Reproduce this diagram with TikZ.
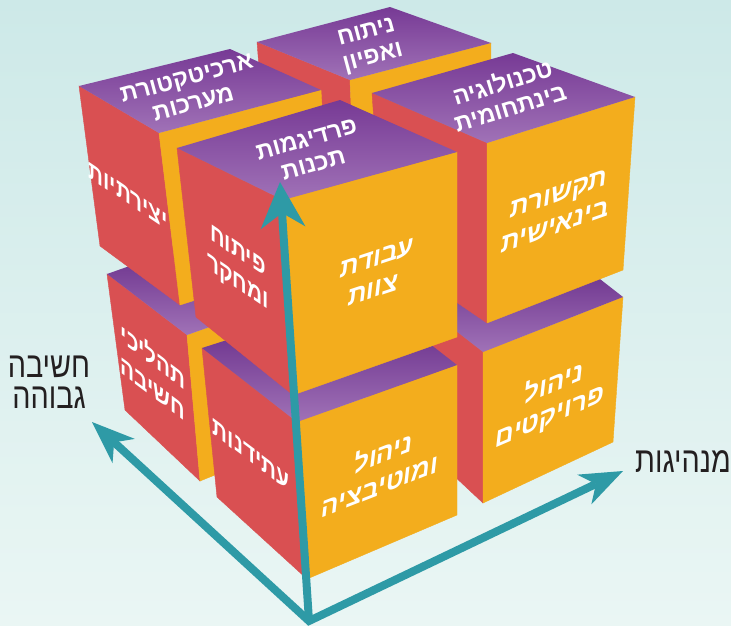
\documentclass[tikz,border=0pt]{standalone}
\usepackage{fontspec}
\usetikzlibrary{arrows.meta}
\TeXXeTstate=1
\newfontfamily\heb[Script=Hebrew]{Liberation Sans}
\definecolor{bgtop}{HTML}{CDE9E8}
\definecolor{bgbot}{HTML}{EAF6F4}
\definecolor{cpurple}{HTML}{8A50A4}
\definecolor{cpurpleL}{HTML}{A072B7}
\definecolor{cpurpleD}{HTML}{773A95}
\definecolor{cpurpleX}{HTML}{5A1C7E}
\definecolor{corange}{HTML}{F3AD1D}
\definecolor{cred}{HTML}{D95052}
\definecolor{axisc}{HTML}{2E9AA6}
\definecolor{ink}{HTML}{231F20}
\tikzset{
  topface/.style={top color=cpurpleD, bottom color=cpurpleL},
  lowtopface/.style={top color=cpurpleX, bottom color=cpurpleL},
  orface/.style={fill=corange, draw=corange, line width=0.4pt},
  rdface/.style={fill=cred, draw=cred, line width=0.4pt},
  toptxt/.style={text=white, font=\heb\bfseries\fontsize{24}{26}\selectfont, align=center, inner sep=0pt},
  sidetxt/.style={text=white, font=\heb\bfseries\fontsize{26}{31}\selectfont, align=center, inner sep=0pt},
  labtxt/.style={text=ink, font=\heb\fontsize{36}{31}\selectfont, align=center, inner sep=0pt},
  axisline/.style={draw=axisc, line width=8pt, line join=miter},
}
\newcommand\mycube[9]{%
  \coordinate (#1tl) at (#2); \coordinate (#1tb) at (#3);
  \coordinate (#1tr) at (#4); \coordinate (#1tf) at (#5);
  \coordinate (#1bl) at (#6); \coordinate (#1bf) at (#7);
  \coordinate (#1br) at (#8);
  \path[rdface] (#1tl) -- (#1tf) -- (#1bf) -- (#1bl) -- cycle;
  \path[orface] (#1tf) -- (#1tr) -- (#1br) -- (#1bf) -- cycle;
  \shade[#9] (#1tl) -- (#1tb) -- (#1tr) -- (#1tf) -- cycle;
}
\begin{document}
\begin{tikzpicture}[x=1pt,y=-1pt]
\useasboundingbox (0,0) rectangle (731,625);
\shade[top color=bgtop,bottom color=bgbot] (0,0) rectangle (731,625);
% bottom layer
\mycube{H}{300,213}{440,168}{515,222}{376,270}{312,352}{384,410}{510,362}{lowtopface}
\mycube{F}{397,285}{546,237}{623,297}{483,352}{405,430}{483,503}{613,442}{lowtopface}
\mycube{G}{107,274}{251,223}{331,284}{187,335}{125,410}{200,481}{341,424}{lowtopface}
\mycube{E}{202,348}{367,295}{457,365}{297,422}{217,497}{307,579}{457,515}{lowtopface}
% top layer
\mycube{D}{257,42}{390,7}{491,43}{350,80}{270,207}{357,250}{489,208}{topface}
\mycube{B}{372,93}{513,53}{635,97}{487,143}{383,252}{487,323}{623,270}{topface}
\mycube{C}{79,86}{230,49}{321,90}{159,133}{100,246}{180,305}{331,257}{topface}
\mycube{A}{177,148}{340,100}{457,152}{283,200}{196,317}{293,395}{457,337}{topface}
% texts on top faces
\node[toptxt, rotate=15.4] (tA) at (310,152) {\beginR פרדיגמות\endR\\\beginR תכנות\endR};
\node[toptxt, rotate=17] (tB) at (506,94) {\beginR טכנולוגיה\endR\\\beginR בינתחומית\endR};
\node[toptxt, rotate=15] (tC) at (190,91) {\beginR ארכיטקטורת\endR\\\beginR מערכות\endR};
\node[toptxt, rotate=15] (tD) at (370,46) {\beginR ניתוח\endR\\\beginR ואפיון\endR};
% texts on orange faces
\node[sidetxt, yslant=0.33, xslant=0.12] (oA) at (375,274) {\beginR עבודת\endR\\\beginR צוות\endR};
\node[sidetxt, yslant=0.35, xslant=0.12] (oB) at (557,210) {\beginR תקשורת\endR\\\beginR בינאישית\endR};
\node[sidetxt, yslant=0.39, xslant=0.12] (oE) at (382,468) {\beginR ניהול\endR\\\beginR ומוטיבציה\endR};
\node[sidetxt, yslant=0.43, xslant=0.12] (oF) at (552,400) {\beginR ניהול\endR\\\beginR פרויקטים\endR};
% texts on red faces
\node[sidetxt, yslant=-0.68, xscale=0.8] (rA) at (238,268) {\beginR פיתוח\endR\\\beginR ומחקר\endR};
\node[sidetxt, yslant=-0.68, xscale=0.8] (rC) at (128,196) {\beginR יצירתיות\endR};
\node[sidetxt, yslant=-0.75, xscale=0.8] (rE) at (251,455) {\beginR עתידנות\endR};
\node[sidetxt, yslant=-0.75, xscale=0.8] (rG) at (153,371) {\beginR תהליכי\endR\\\beginR חשיבה\endR};
% axes
\coordinate (O) at (309,621);
\coordinate (tV) at (280,182);
\coordinate (tL) at (92,422);
\coordinate (tR) at (623,471);
\draw[axisline, {Stealth[length=43pt,width=33pt,inset=13pt,line width=0pt]}-{Stealth[length=43pt,width=33pt,inset=13pt,line width=0pt]}] (tL) -- (O) -- (tR);
\draw[axisline, -{Stealth[length=46pt,width=45pt,inset=15pt,line width=0pt]}] (O) -- (tV);
% labels
\node[labtxt, xscale=0.8] (lab1) at (49,382) {\beginR חשיבה\endR\\\beginR גבוהה\endR};
\node[labtxt, xscale=0.8, anchor=east] (lab2) at (731,462) {\beginR מנהיגות\endR};
\end{tikzpicture}
\end{document}
